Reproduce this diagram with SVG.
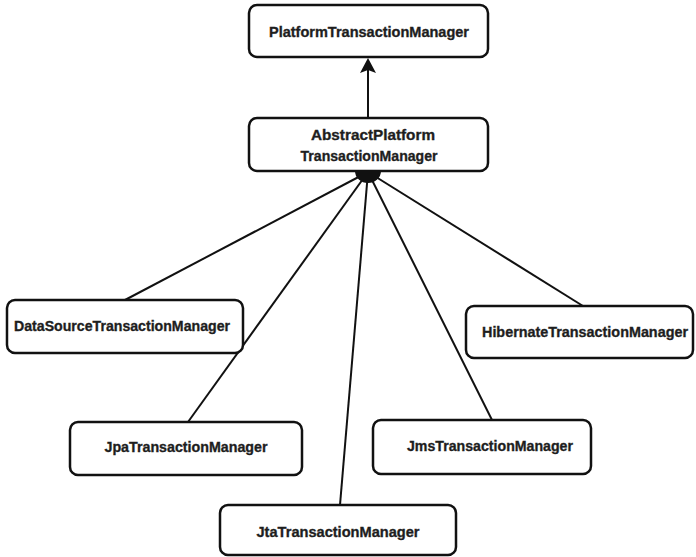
<svg xmlns="http://www.w3.org/2000/svg" width="696" height="557" viewBox="0 0 696 557">
<style>
.box{fill:#fff;stroke:#111;stroke-width:2.5}
.lbl{font-family:"Liberation Sans",Arial,sans-serif;font-weight:bold;font-size:15px;fill:#1e1e1e;stroke:#1e1e1e;stroke-width:0.35;text-anchor:middle}
.ln{stroke:#111;stroke-width:2;fill:none}
</style>
<rect width="696" height="557" fill="#fff"/>
<g id="connectors">
<line class="ln" x1="368" y1="118" x2="368" y2="68"/>
<path d="M368,58 L376,73 L368,70 L360,73 Z" fill="#111"/>
<line class="ln" x1="368" y1="172" x2="125" y2="300"/>
<line class="ln" x1="368" y1="172" x2="188" y2="422"/>
<line class="ln" x1="368" y1="172" x2="340" y2="505"/>
<line class="ln" x1="368" y1="172" x2="492" y2="420"/>
<line class="ln" x1="368" y1="172" x2="583" y2="306"/>
</g>
<g id="PlatformTransactionManager">
<rect class="box" x="249" y="5" width="239" height="52" rx="8"/>
<text class="lbl" x="369" y="37" textLength="200" lengthAdjust="spacingAndGlyphs">PlatformTransactionManager</text>
</g>
<g id="AbstractPlatformTransactionManager">
<rect class="box" x="249" y="118" width="239" height="53" rx="8"/>
<text class="lbl" x="373" y="140" textLength="124" lengthAdjust="spacingAndGlyphs">AbstractPlatform</text>
<text class="lbl" x="369" y="161" textLength="137" lengthAdjust="spacingAndGlyphs">TransactionManager</text>
<path d="M355,171 A13,12 0 0 0 381,171 Z" fill="#111"/>
</g>
<g id="DataSourceTransactionManager">
<rect class="box" x="7" y="300" width="236" height="53" rx="8"/>
<text class="lbl" x="122" y="331" textLength="216" lengthAdjust="spacingAndGlyphs">DataSourceTransactionManager</text>
</g>
<g id="HibernateTransactionManager">
<rect class="box" x="466" y="306" width="227" height="52" rx="8"/>
<text class="lbl" x="585" y="337" textLength="206" lengthAdjust="spacingAndGlyphs">HibernateTransactionManager</text>
</g>
<g id="JpaTransactionManager">
<rect class="box" x="70" y="422" width="232" height="53" rx="8"/>
<text class="lbl" x="186" y="452" textLength="163" lengthAdjust="spacingAndGlyphs">JpaTransactionManager</text>
</g>
<g id="JmsTransactionManager">
<rect class="box" x="373" y="420" width="218" height="54" rx="8"/>
<text class="lbl" x="490" y="451" textLength="166" lengthAdjust="spacingAndGlyphs">JmsTransactionManager</text>
</g>
<g id="JtaTransactionManager">
<rect class="box" x="220" y="505" width="236" height="50" rx="8"/>
<text class="lbl" x="338" y="537" textLength="163" lengthAdjust="spacingAndGlyphs">JtaTransactionManager</text>
</g>
</svg>
